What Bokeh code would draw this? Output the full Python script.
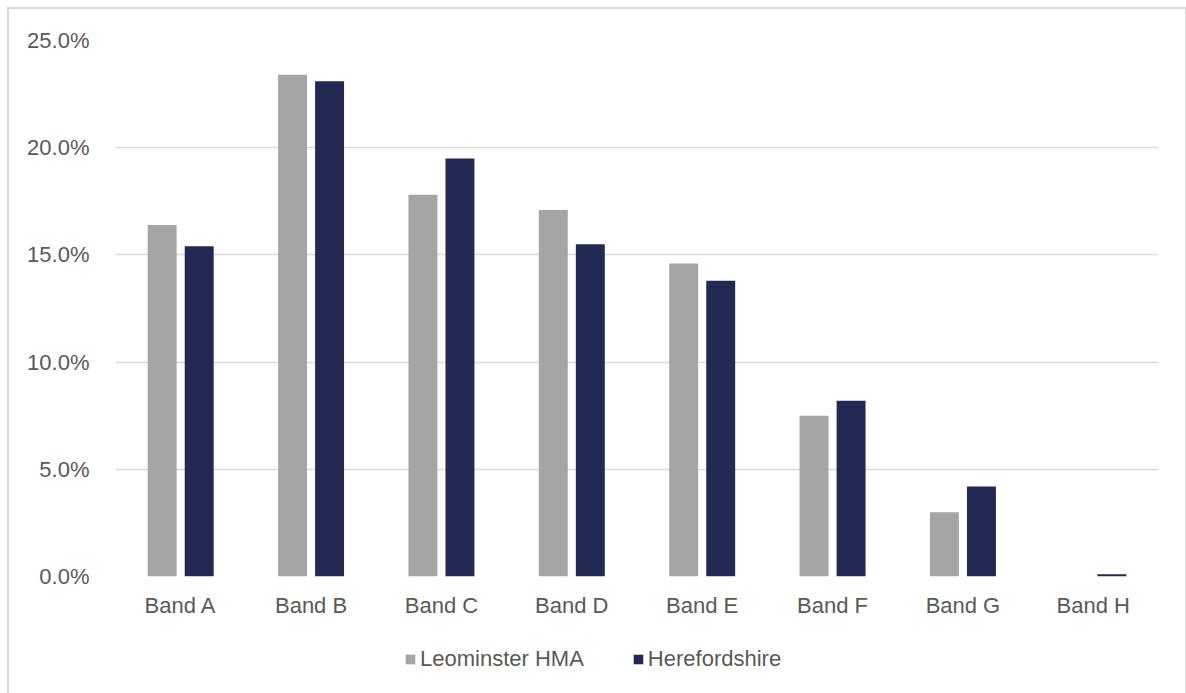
from bokeh.plotting import figure
from bokeh.layouts import column
from bokeh.models import (ColumnDataSource, Legend, LegendItem, PrintfTickFormatter,
                          FixedTicker, Range1d)
from bokeh.transform import dodge
from bokeh.embed import file_html
from bokeh.resources import INLINE

# Council tax band distribution (% of dwellings)
bands = ["Band A", "Band B", "Band C", "Band D", "Band E", "Band F", "Band G", "Band H"]
leominster = [16.4, 23.4, 17.8, 17.1, 14.6, 7.5, 3.0, 0.0]
herefordshire = [15.4, 23.1, 19.5, 15.5, 13.8, 8.2, 4.2, 0.1]
series_names = ["Leominster HMA", "Herefordshire"]
y_ticks = [0, 5, 10, 15, 20, 25]

GREY = "#a5a5a5"
NAVY = "#222a54"
TEXT = "#595959"
GRID = "#d9d9d9"
FONT = "Liberation Sans"

src = ColumnDataSource(dict(band=bands, leo=leominster, her=herefordshire))

# --- main bar chart -------------------------------------------------------
p = figure(x_range=bands, y_range=(0, 25), width=1176, height=631,
           output_backend="svg", toolbar_location=None,
           min_border_left=106, min_border_right=27,
           min_border_top=31, min_border_bottom=64)

p.vbar(x=dodge("band", -0.142, range=p.x_range), top="leo", width=0.222,
       source=src, color=GREY, line_color=None)
p.vbar(x=dodge("band", 0.142, range=p.x_range), top="her", width=0.222,
       source=src, color=NAVY, line_color=None)

p.outline_line_color = None
p.xgrid.grid_line_color = None
p.ygrid.grid_line_color = GRID
p.ygrid.grid_line_width = 1.5
p.ygrid.level = "underlay"

p.yaxis.ticker = FixedTicker(ticks=y_ticks)
p.yaxis.formatter = PrintfTickFormatter(format="%.1f%%")
for ax in (p.xaxis[0], p.yaxis[0]):
    ax.axis_line_color = None
    ax.major_tick_line_color = None
    ax.minor_tick_line_color = None
    ax.major_label_text_font = FONT
    ax.major_label_text_font_size = "22px"
    ax.major_label_text_color = TEXT
p.yaxis.major_label_standoff = 20
p.xaxis.major_label_standoff = 10

# --- legend strip (frame is aligned with the chart frame by the column) ----
lg = figure(width=1176, height=53, output_backend="svg", toolbar_location=None,
            min_border=0, x_range=Range1d(0, 1), y_range=Range1d(0, 1))
lg.axis.visible = False
lg.grid.grid_line_color = None
lg.outline_line_color = None
# zero-size keys: they only supply the legend swatches
k1 = lg.vbar(x=[0], top=[0], width=0, color=GREY, line_color=None)
k2 = lg.vbar(x=[0], top=[0], width=0, color=NAVY, line_color=None)

legend = Legend(items=[LegendItem(label=series_names[0], renderers=[k1]),
                       LegendItem(label=series_names[1], renderers=[k2])],
                orientation="horizontal", location=(289, 21),
                padding=0, margin=0, spacing=48,
                glyph_width=12, glyph_height=12, label_standoff=4,
                label_text_font=FONT, label_text_font_size="22px",
                label_text_color=TEXT, border_line_color=None,
                background_fill_alpha=0)
lg.add_layout(legend, "center")

layout = column(p, lg, spacing=0)
# chart-area border around the whole block
layout.margin = (9, 0, 0, 9)
layout.styles = {"outline": "2px solid #d9d9d9"}

open("out.html", "w").write(file_html(layout, INLINE))
